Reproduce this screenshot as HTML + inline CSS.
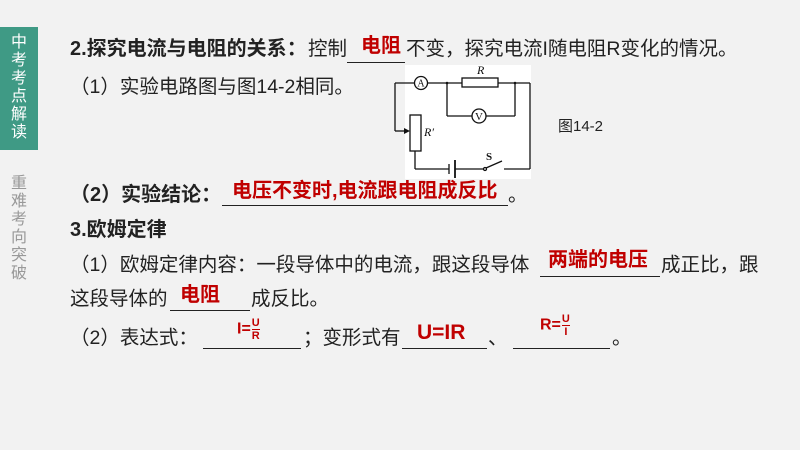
<!DOCTYPE html>
<html><head><meta charset="utf-8"><style>
*{margin:0;padding:0}
body{width:800px;height:450px;background:#f2f2f2;position:relative;overflow:hidden;font-family:"Liberation Sans","Noto Sans CJK SC",sans-serif;color:#222}
.t{position:absolute;font-size:19.5px;line-height:22px;white-space:nowrap}
.b{font-weight:bold;font-size:20px}
.p{display:inline-block;width:1em;text-align:center}
.r{position:absolute;color:#c00000;font-weight:bold;font-size:20px;line-height:22px;white-space:nowrap}
.u{position:absolute;height:1px;background:#222}
.side{position:absolute;left:4px;width:30px;text-align:center;font-size:16px;line-height:18px}
.fr{display:inline-block;vertical-align:middle;text-align:center;font-size:11px;line-height:12px;margin-left:1px}
.fr span{display:block}
.fr span:first-child{border-bottom:1.5px solid #c00000}
</style></head><body>
<div style="position:absolute;left:0;top:27px;width:38px;height:123px;background:#3f9a85"></div>
<div class="side" style="top:34px;color:#fff">中<br>考<br>考<br>点<br>解<br>读</div>
<div class="side" style="top:175px;color:#999">重<br>难<br>考<br>向<br>突<br>破</div>

<div class="t b" style="left:70px;top:38px">2.探究电流与电阻的关系<span class="p">：</span></div>
<div class="t" style="left:308px;top:38px">控制</div>
<div class="u" style="left:347px;top:62px;width:58px"></div>
<div class="r" style="left:361px;top:35px">电阻</div>
<div class="t" style="left:406px;top:38px">不变<span class="p">，</span>探究电流I随电阻R变化的情况<span class="p">。</span></div>

<div class="t" style="left:70px;top:76px"><span class="p">（</span>1<span class="p">）</span>实验电路图与图14-2相同<span class="p">。</span></div>

<div style="position:absolute;left:405px;top:65px;width:126px;height:114px;background:#fff"></div>
<svg style="position:absolute;left:390px;top:55px" width="160" height="130" viewBox="390 55 160 130">
<g stroke="#111" stroke-width="1.3" fill="none">
<line x1="395" y1="83" x2="414" y2="83"/>
<line x1="395" y1="83" x2="395" y2="131"/>
<line x1="395" y1="131" x2="407" y2="131"/>
<circle cx="421" cy="83" r="6.5" fill="#fff"/>
<line x1="428" y1="83" x2="530" y2="83"/>
<rect x="462" y="78" width="36" height="9" fill="#fff"/>
<line x1="447" y1="83" x2="447" y2="116"/>
<line x1="515" y1="83" x2="515" y2="116"/>
<line x1="447" y1="116" x2="472" y2="116"/>
<line x1="486" y1="116" x2="515" y2="116"/>
<circle cx="479" cy="116" r="7" fill="#fff"/>
<line x1="530" y1="83" x2="530" y2="169"/>
<rect x="410" y="115" width="11" height="36" fill="#fff"/>
<line x1="415" y1="151" x2="415" y2="169"/>
<line x1="415" y1="169" x2="449" y2="169"/>
<line x1="449" y1="164" x2="449" y2="174"/>
<line x1="455" y1="160" x2="455" y2="178" stroke-width="1.8"/>
<line x1="455" y1="169" x2="484" y2="169"/>
<circle cx="485" cy="169" r="1.5" fill="#fff"/>
<line x1="486" y1="168" x2="502" y2="161"/>
<line x1="504" y1="169" x2="530" y2="169"/>
</g>
<path d="M404 128 L410 131 L404 134 Z" fill="#111"/>
<circle cx="447" cy="83" r="1.3" fill="#111"/>
<circle cx="515" cy="83" r="1.3" fill="#111"/>
<g font-family="Liberation Serif,serif" fill="#111">
<text x="421" y="86.5" text-anchor="middle" font-size="10">A</text>
<text x="479" y="120" text-anchor="middle" font-size="11">V</text>
<text x="477" y="74" font-style="italic" font-size="12">R</text>
<text x="424" y="136" font-style="italic" font-size="12">R′</text>
<text x="486" y="160" font-weight="bold" font-size="11">S</text>
</g>
</svg>
<div class="t" style="left:558px;top:116px;font-size:15px">图14-2</div>

<div class="t b" style="left:70px;top:184px"><span class="p">（</span>2<span class="p">）</span>实验结论<span class="p">：</span></div>
<div class="u" style="left:222px;top:205px;width:286px"></div>
<div class="r" style="left:232px;top:180px">电压不变时,电流跟电阻成反比</div>
<div class="t" style="left:508px;top:184px">。</div>

<div class="t b" style="left:70px;top:219px">3.欧姆定律</div>

<div class="t" style="left:70px;top:254px"><span class="p">（</span>1<span class="p">）</span>欧姆定律内容<span class="p">：</span>一段导体中的电流<span class="p">，</span>跟这段导体</div>
<div class="u" style="left:540px;top:276px;width:120px"></div>
<div class="r" style="left:548px;top:249px">两端的电压</div>
<div class="t" style="left:661px;top:254px">成正比<span class="p">，</span>跟</div>

<div class="t" style="left:70px;top:288px">这段导体的</div>
<div class="u" style="left:170px;top:310px;width:80px"></div>
<div class="r" style="left:180px;top:284px">电阻</div>
<div class="t" style="left:251px;top:288px">成反比<span class="p">。</span></div>

<div class="t" style="left:70px;top:327px"><span class="p">（</span>2<span class="p">）</span>表达式<span class="p">：</span></div>
<div class="u" style="left:203px;top:348px;width:98px"></div>
<div class="r" style="left:237px;top:317px;font-size:16px">I=<span class="fr"><span>U</span><span>R</span></span></div>
<div class="t" style="left:303px;top:327px"><span class="p">；</span>变形式有</div>
<div class="u" style="left:402px;top:348px;width:85px"></div>
<div class="r" style="left:417px;top:322px;font-size:21px">U=IR</div>
<div class="t" style="left:488px;top:327px">、</div>
<div class="u" style="left:513px;top:348px;width:97px"></div>
<div class="r" style="left:540px;top:313px;font-size:16px">R=<span class="fr"><span>U</span><span>I</span></span></div>
<div class="t" style="left:612px;top:327px">。</div>
</body></html>
